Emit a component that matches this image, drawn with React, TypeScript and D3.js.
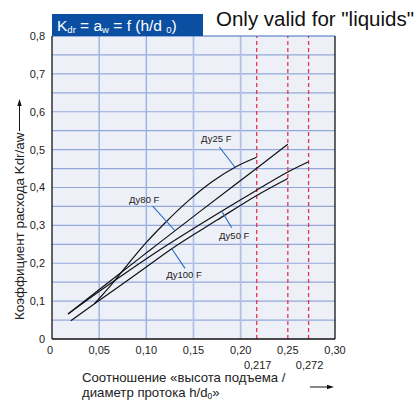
import React from "react";
import * as d3 from "d3";

// значения (h/d0 -> Kdr/aw)
const du25: [number, number][] = [
  [0.045, 0.093], [0.06, 0.135], [0.08, 0.196], [0.1, 0.255], [0.12, 0.307],
  [0.145, 0.366], [0.17, 0.416], [0.195, 0.455], [0.217, 0.48],
];
const du80: [number, number][] = [
  [0.017, 0.066], [0.06, 0.15], [0.104, 0.235], [0.157, 0.337], [0.217, 0.451], [0.25, 0.514],
];
const du50: [number, number][] = [
  [0.017, 0.066], [0.06, 0.143], [0.114, 0.235], [0.165, 0.315], [0.217, 0.393],
  [0.25, 0.441], [0.272, 0.468],
];
const du100: [number, number][] = [
  [0.02, 0.048], [0.045, 0.093], [0.1, 0.19], [0.125, 0.235], [0.175, 0.314],
  [0.217, 0.379], [0.25, 0.424],
];

const xTicks = [0, 0.05, 0.1, 0.15, 0.2, 0.25, 0.3];
const xTickLabels = ["0", "0,05", "0,10", "0,15", "0,20", "0,25", "0,30"];
const yTicks = [0, 0.1, 0.2, 0.3, 0.4, 0.5, 0.6, 0.7, 0.8];
const yTickLabels = ["0", "0,1", "0,2", "0,3", "0,4", "0,5", "0,6", "0,7", "0,8"];
const limits = [0.217, 0.25, 0.272];
const limitLabels = ["0,217", "", "0,272"];

// подписи кривых: текст, положение текста, начало выноски, x точки на кривой
const callouts = [
  { name: "Ду25 F", data: du25, tx: 0.158, ty: 0.528, lx: 0.1774, ly: 0.507, cx: 0.194 },
  { name: "Ду80 F", data: du80, tx: 0.0816, ty: 0.3686, lx: 0.1067, ly: 0.351, cx: 0.1304 },
  { name: "Ду50 F", data: du50, tx: 0.177, ty: 0.274, lx: 0.1905, ly: 0.2937, cx: 0.18 },
  { name: "Ду100 F", data: du100, tx: 0.121, ty: 0.171, lx: 0.141, ly: 0.1865, cx: 0.127 },
];

const font = "'Liberation Sans', Arial, Helvetica, sans-serif";

function valueAt(data: [number, number][], xv: number) {
  const i = Math.max(1, d3.bisector((d: [number, number]) => d[0]).left(data, xv));
  const a = data[i - 1], b = data[Math.min(i, data.length - 1)];
  if (b[0] === a[0]) return a[1];
  return a[1] + ((xv - a[0]) / (b[0] - a[0])) * (b[1] - a[1]);
}

export default function App() {
  const x = d3.scaleLinear().domain([0, 0.3]).range([52, 335]);
  const y = d3.scaleLinear().domain([0, 0.8]).range([339, 36]);
  const line = d3.line<[number, number]>()
    .x(d => x(d[0]))
    .y(d => y(d[1]))
    .curve(d3.curveMonotoneX);

  const hGrid = d3.range(0.05, 0.8, 0.05);
  const vGrid = [0.05, 0.1, 0.15, 0.2];

  return (
    <svg width={420} height={403} style={{ position: "absolute", left: 0, top: 0 }} fontFamily={font}>
      <rect x={x(0)} y={y(0.8)} width={x(0.3) - x(0)} height={y(0) - y(0.8)} fill="#eef0f8" />
      {hGrid.map((v, i) => (
        <line key={"h" + i} x1={x(0)} x2={x(0.3)} y1={y(v)} y2={y(v)} stroke="#93a8da" strokeWidth={1.2} />
      ))}
      {vGrid.map((v, i) => (
        <line key={"v" + i} x1={x(v)} x2={x(v)} y1={y(0)} y2={y(0.8)}
          stroke={v >= 0.15 ? "#b3c0e6" : "#9aafdd"} strokeWidth={v >= 0.15 ? 1.8 : 1.4} />
      ))}
      {limits.map((v, i) => (
        <line key={"l" + i} x1={x(v)} x2={x(v)} y1={y(0)} y2={y(0.8)}
          stroke="#e8344e" strokeWidth={1.3} strokeDasharray="4,3" />
      ))}
      {/* рамка */}
      <line x1={x(0)} x2={x(0.3)} y1={y(0.8)} y2={y(0.8)} stroke="#3f6cc0" strokeWidth={1.2} />
      <line x1={x(0)} x2={x(0)} y1={y(0)} y2={y(0.8)} stroke="#111" strokeWidth={1.3} />
      <line x1={x(0.3)} x2={x(0.3)} y1={y(0)} y2={y(0.8)} stroke="#111" strokeWidth={1.3} />
      <line x1={x(0)} x2={x(0.3)} y1={y(0)} y2={y(0)} stroke="#111" strokeWidth={1.3} />

      {[du25, du80, du50, du100].map((d, i) => (
        <path key={"c" + i} d={line(d) || ""} fill="none" stroke="#111" strokeWidth={1.2} />
      ))}

      {callouts.map((c, i) => (
        <g key={"a" + i}>
          <line x1={x(c.lx)} y1={y(c.ly)} x2={x(c.cx)} y2={y(valueAt(c.data, c.cx))} stroke="#1f6cc4" strokeWidth={1.1} />
          <text x={x(c.tx)} y={y(c.ty)} dy="0.35em" fontSize={9.5} fill="#222">{c.name}</text>
        </g>
      ))}

      {yTicks.map((v, i) => (
        <text key={"yt" + i} x={45} y={y(v)} dy="0.36em" textAnchor="end" fontSize={11} fill="#222">{yTickLabels[i]}</text>
      ))}
      {xTicks.map((v, i) => (
        <text key={"xt" + i} x={x(v) - (i === 0 ? 2 : 0)} y={354} textAnchor="middle" fontSize={11} fill="#222">{xTickLabels[i]}</text>
      ))}
      {limits.map((v, i) => limitLabels[i] ? (
        <text key={"lt" + i} x={x(v) + 1} y={369} textAnchor="middle" fontSize={11} fill="#222">{limitLabels[i]}</text>
      ) : null)}

      {/* заголовок */}
      <rect x={52} y={14} width={151} height={22} fill="#0b4fa3" />
      <text x={57} y={31} fill="#fff" fontSize={15.5}>
        K<tspan fontSize={9.5} dy={2}>dr</tspan>
        <tspan dy={-2}> = a</tspan>
        <tspan fontSize={9.5} dy={2}>w</tspan>
        <tspan dy={-2}> = f (h/d </tspan>
        <tspan fontSize={9.5} dy={2}>0</tspan>
        <tspan dy={-2}>)</tspan>
      </text>
      <text x={216} y={26} fontSize={20.5} fill="#111">Only valid for "liquids"</text>

      {/* подпись оси Y */}
      <text transform="translate(24,320) rotate(-90)" fontSize={13.4} fill="#222">Коэффициент расхода Kdr/aw</text>
      <line x1={19.5} x2={19.5} y1={131} y2={104} stroke="#111" strokeWidth={1} />
      <path d="M19.5,99 L17.3,106 L21.7,106 Z" fill="#111" />

      {/* подпись оси X */}
      <text x={82} y={382} fontSize={13.2} fill="#222">Соотношение «высота подъема /</text>
      <text x={82} y={397} fontSize={13.2} fill="#222">
        диаметр протока h/d<tspan fontSize={8.5} dy={2}>0</tspan><tspan dy={-2}>»</tspan>
      </text>
      <line x1={310} x2={329} y1={387} y2={387} stroke="#111" strokeWidth={1} />
      <path d="M334,387 L327,384.8 L327,389.2 Z" fill="#111" />
    </svg>
  );
}
